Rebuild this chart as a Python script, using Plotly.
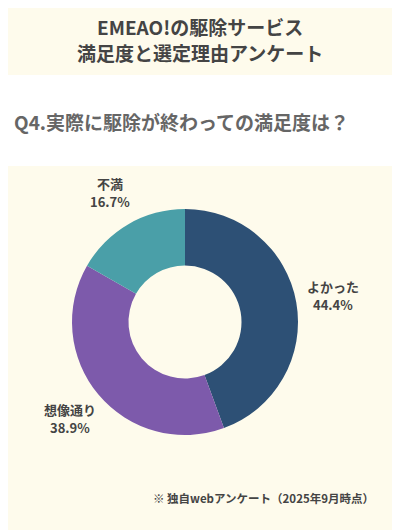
import math
import plotly.graph_objects as go

# survey results (Q4 satisfaction)
labels = ['よかった', '想像通り', '不満']
values = [44.4, 38.9, 16.7]
colors = ['#2d5075', '#7d5aab', '#4a9fa8']

title_lines = ['EMEAO!の駆除サービス', '満足度と選定理由アンケート']
question = 'Q4.実際に駆除が終わっての満足度は？'
footnote = '※ 独自webアンケート（2025年9月時点）'

W, H = 400, 530
OFF = 8  # page body margin, shift content so it lines up
bg = '#fefbec'
font_family = 'Noto Sans CJK JP'
text_col = '#444444'


def px(x):
    return (x - OFF) / W


def py(y):
    return 1 - (y - OFF) / H


# pie geometry in pixels (page coordinates)
cx, cy, r = 185, 322, 113
label_r = 150

fig = go.Figure()
fig.add_trace(go.Pie(
    labels=labels,
    values=values,
    hole=0.5,
    sort=False,
    direction='clockwise',
    rotation=0,
    marker=dict(colors=colors, line=dict(width=0)),
    textinfo='none',
    hoverinfo='label+percent',
    showlegend=False,
    domain=dict(x=[px(cx - r), px(cx + r)],
                y=[py(cy + r), py(cy - r)]),
))

# outside labels placed at each slice's mid angle (name line + percent line)
annotations = []
total = sum(values)
acc = 0
for lab, v in zip(labels, values):
    mid = (acc + v / 2) / total * 2 * math.pi
    acc += v
    lx = cx + label_r * math.sin(mid)
    ly = cy - label_r * math.cos(mid)
    for txt, dy in ((lab, -9), ('%.1f%%' % v, 9)):
        annotations.append(dict(
            x=px(lx), y=py(ly + dy), xref='paper', yref='paper',
            xanchor='center', yanchor='middle',
            text='<b>' + txt + '</b>', showarrow=False,
            font=dict(size=13, color=text_col, family=font_family),
        ))

for i, line in enumerate(title_lines):
    annotations.append(dict(
        x=px(200), y=py(27 + 26 * i), xref='paper', yref='paper',
        xanchor='center', yanchor='middle',
        text='<b>' + line + '</b>', showarrow=False,
        font=dict(size=19, color=text_col, family=font_family),
    ))
annotations.append(dict(
    x=px(12), y=py(122), xref='paper', yref='paper',
    xanchor='left', yanchor='middle',
    text='<b>' + question + '</b>', showarrow=False,
    font=dict(size=19, color='#666666', family=font_family),
))
annotations.append(dict(
    x=px(376), y=py(498), xref='paper', yref='paper',
    xanchor='right', yanchor='middle',
    text='<b>' + footnote + '</b>', showarrow=False,
    font=dict(size=11.5, color=text_col, family=font_family),
))

fig.update_layout(
    width=W, height=H,
    autosize=False,
    margin=dict(l=0, r=0, t=0, b=0, pad=0),
    paper_bgcolor=bg,
    plot_bgcolor=bg,
    annotations=annotations,
    shapes=[dict(type='rect', xref='paper', yref='paper',
                 x0=0, x1=1, y0=py(166), y1=py(75),
                 fillcolor='#ffffff', line=dict(width=0), layer='below')],
)

fig.write_html('out.html')
